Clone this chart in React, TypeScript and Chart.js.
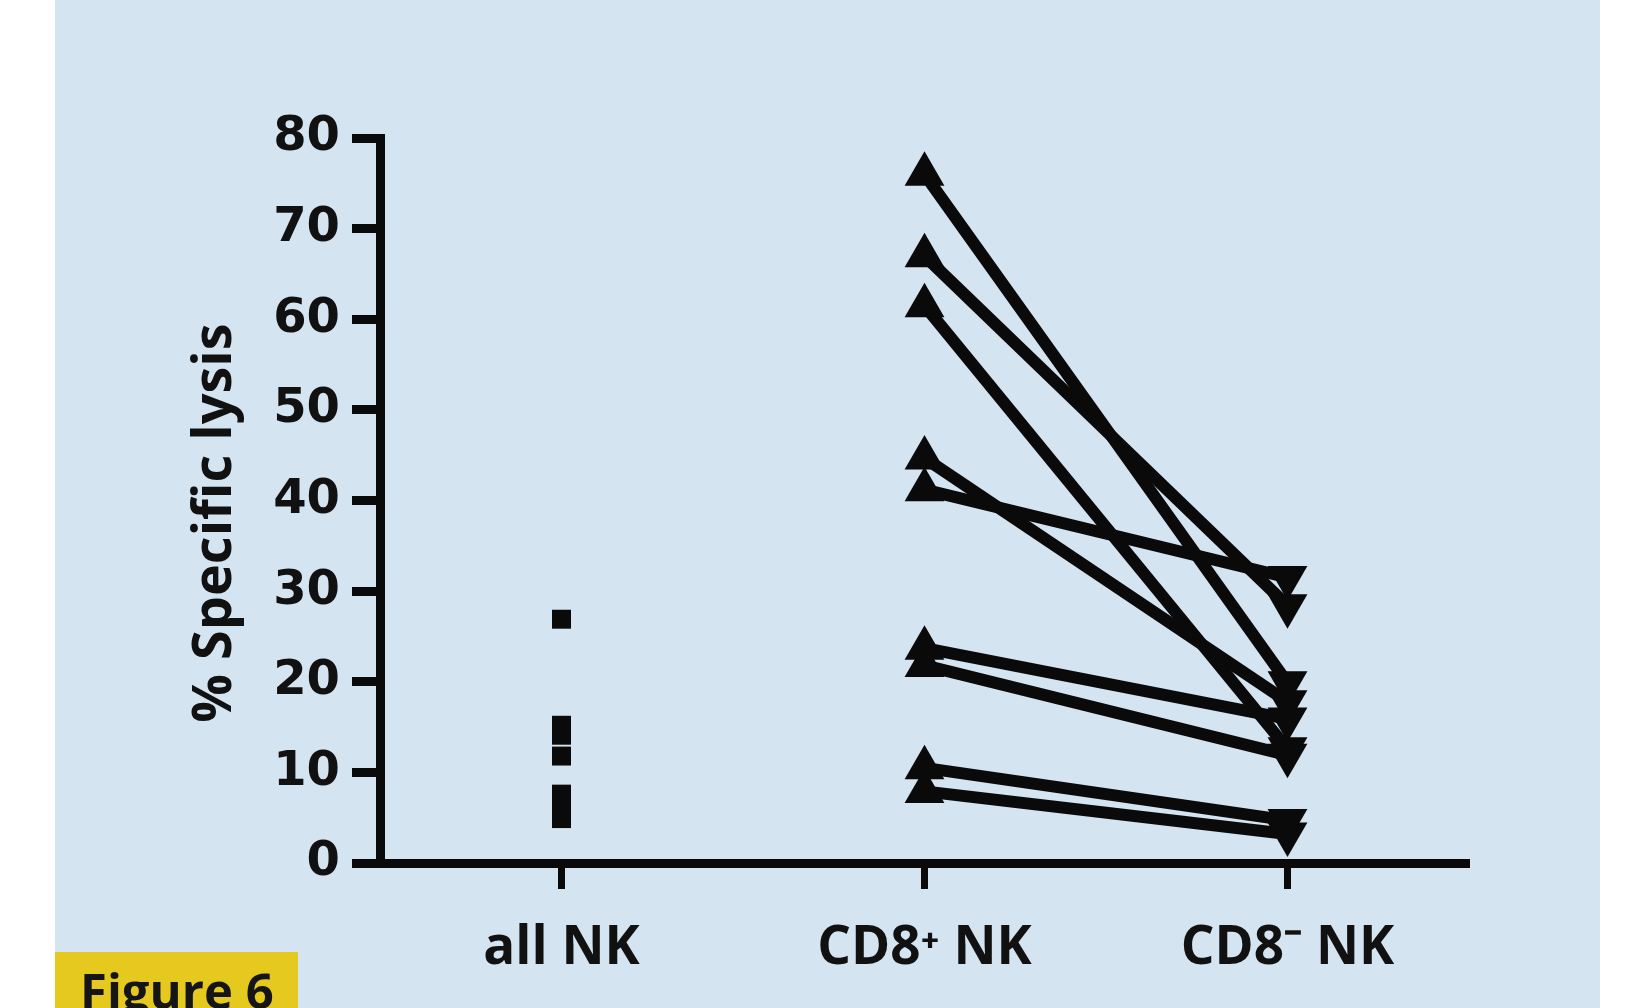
import React, { useEffect, useRef } from 'react';
import { Chart, registerables } from 'chart.js';

Chart.register(...registerables);

// ---- data ----
const categories = ['all NK', 'CD8\u207A NK', 'CD8\u207B NK'];
const yTickValues = [0, 10, 20, 30, 40, 50, 60, 70, 80];
const allNK = [26.9, 15.2, 14.1, 11.8, 7.6, 6.2, 4.9];
const cd8Pos = [76.0, 67.0, 61.5, 44.7, 41.2, 23.7, 21.8, 10.5, 7.9];
const cd8Neg = [19.9, 28.4, 12.6, 17.8, 31.5, 15.9, 11.9, 4.7, 3.2];
const yAxisTitle = '% Specific lysis';
const figureLabel = 'Figure 6';

const W = 1634;
const H = 1008;

const backgroundPlugin = {
  id: 'bgPanel',
  beforeDraw(chart: any) {
    const ctx = chart.ctx;
    ctx.save();
    ctx.fillStyle = '#ffffff';
    ctx.fillRect(0, 0, W, H);
    ctx.fillStyle = '#d5e4f1';
    ctx.fillRect(55, 0, 1545, H);
    ctx.restore();
  },
  afterDraw(chart: any) {
    const ctx = chart.ctx;
    ctx.save();
    // y-axis title
    ctx.translate(216, 523);
    ctx.rotate(-Math.PI / 2);
    ctx.fillStyle = '#111111';
    ctx.font = 'bold 54px "Open Sans"';
    ctx.textAlign = 'center';
    ctx.textBaseline = 'middle';
    ctx.fillText(yAxisTitle, 0, 0);
    ctx.restore();

    ctx.save();
    ctx.fillStyle = '#e6c91f';
    ctx.fillRect(55, 952, 243, H - 952);
    ctx.fillStyle = '#151515';
    ctx.font = 'bold 49px "Open Sans"';
    ctx.textAlign = 'left';
    ctx.textBaseline = 'alphabetic';
    ctx.fillText(figureLabel, 80, 1009);
    ctx.restore();
  },
};

export default function App() {
  const ref = useRef<HTMLCanvasElement | null>(null);

  useEffect(() => {
    if (!ref.current) return;
    const pairDatasets = cd8Pos.map((v, i) => ({
      type: 'line' as const,
      data: [
        { x: categories[1], y: v },
        { x: categories[2], y: cd8Neg[i] },
      ],
      borderColor: '#0a0a0a',
      borderWidth: 12,
      backgroundColor: '#0a0a0a',
      pointStyle: 'triangle',
      pointRadius: 23,
      pointRotation: [0, 180],
      pointBorderWidth: 0,
      pointBackgroundColor: '#0a0a0a',
      clip: false as any,
      tension: 0,
    }));
    const chart = new Chart(ref.current, {
      type: 'line',
      data: {
        labels: categories,
        datasets: [
          {
            data: allNK.map((v) => ({ x: categories[0], y: v })),
            showLine: false,
            pointStyle: 'rect',
            pointRadius: 13.4,
            pointBorderWidth: 0,
            pointBackgroundColor: '#0a0a0a',
            borderColor: '#0a0a0a',
            clip: false as any,
          } as any,
          ...(pairDatasets as any[]),
        ],
      },
      options: {
        responsive: false,
        animation: false,
        events: [],
        layout: { padding: { left: 0, top: 138, right: 165, bottom: 0 } },
        plugins: {
          legend: { display: false },
          tooltip: { enabled: false },
        },
        scales: {
          x: {
            type: 'category',
            offset: true,
            grid: {
              display: true,
              drawOnChartArea: false,
              drawTicks: true,
              tickLength: 26,
              tickWidth: 7,
              tickColor: '#0a0a0a',
              offset: false,
            },
            border: { display: true, color: '#0a0a0a', width: 9 },
            ticks: {
              color: '#111111',
              font: { family: '"Open Sans"', size: 53, weight: 'bold' },
              padding: 28,
            },
            afterFit: (scale: any) => {
              scale.height = H - 863;
            },
          },
          y: {
            type: 'linear',
            min: 0,
            max: 80,
            afterBuildTicks: (scale: any) => {
              scale.ticks = yTickValues.map((v) => ({ value: v }));
            },
            grid: {
              display: true,
              drawOnChartArea: false,
              drawTicks: true,
              tickLength: 28,
              tickWidth: 9,
              tickColor: '#0a0a0a',
            },
            border: { display: true, color: '#0a0a0a', width: 9 },
            ticks: {
              color: '#111111',
              font: { family: '"DejaVu Sans"', size: 48, weight: 'bold' },
              padding: 12,
            },
            afterFit: (scale: any) => {
              scale.width = 380;
            },
          },
        },
      },
      plugins: [backgroundPlugin],
    } as any);
    return () => chart.destroy();
  }, []);

  return (
    <div style={{ position: 'fixed', left: 0, top: 0, width: W, height: H, background: '#ffffff' }}>
      <canvas ref={ref} width={W} height={H} style={{ display: 'block', width: W, height: H }} />
    </div>
  );
}
